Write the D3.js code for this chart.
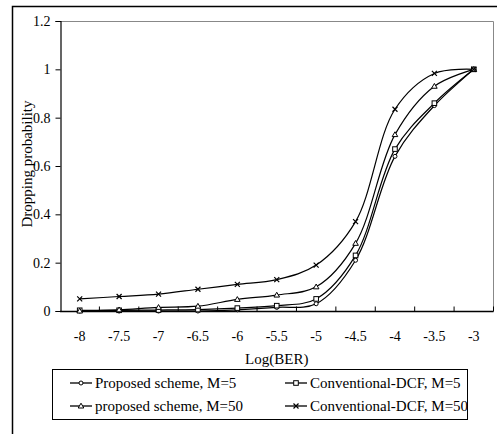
<!DOCTYPE html>
<html>
<head>
<meta charset="utf-8">
<script src="https://cdn.jsdelivr.net/npm/d3@7"></script>
<style>
  body { margin: 0; background: #fff; }
  svg text { font-family: "Liberation Serif", "Times New Roman", serif; fill: #000; }
</style>
</head>
<body>
<div id="chart"></div>
<script>
const categories = ['-8', '-7.5', '-7', '-6.5', '-6', '-5.5', '-5', '-4.5', '-4', '-3.5', '-3'];
const proposedM5 = [0, 0, 0, 0, 0.005, 0.015, 0.03, 0.21, 0.64, 0.85, 1.0];
const conventionalM5 = [0.003, 0.003, 0.004, 0.006, 0.012, 0.022, 0.05, 0.23, 0.67, 0.86, 1.0];
const proposedM50 = [0, 0.005, 0.015, 0.02, 0.048, 0.066, 0.1, 0.28, 0.73, 0.93, 1.0];
const conventionalM50 = [0.05, 0.06, 0.07, 0.09, 0.11, 0.13, 0.19, 0.37, 0.835, 0.983, 1.0];
const yTicks = [0, 0.2, 0.4, 0.6, 0.8, 1, 1.2];
const seriesNames = ['Proposed scheme, M=5', 'Conventional-DCF, M=5', 'proposed scheme, M=50', 'Conventional-DCF, M=50'];

const w = 497;
const h = 434;
const plot = { left: 60, right: 493.5, top: 21, bottom: 311 };

const series = [
  { name: seriesNames[0], values: proposedM5, marker: 'circle' },
  { name: seriesNames[1], values: conventionalM5, marker: 'square' },
  { name: seriesNames[2], values: proposedM50, marker: 'triangle' },
  { name: seriesNames[3], values: conventionalM50, marker: 'cross' }
];

const svg = d3.select('#chart')
  .append('svg')
  .attr('width', w)
  .attr('height', h);

// outer chart frame (clipped at right and bottom)
svg.append('path')
  .attr('d', 'M12.5,434 L12.5,6.5 L497,6.5')
  .attr('fill', 'none')
  .attr('stroke', '#000')
  .attr('stroke-width', 1.5);

const xScale = d3.scaleBand()
  .domain(categories)
  .range([plot.left, plot.right]);

const yScale = d3.scaleLinear()
  .domain([0, 1.2])
  .range([plot.bottom, plot.top]);

// plot frame top and right
svg.append('path')
  .attr('d', `M${plot.left},${plot.top + 0.5} L${plot.right},${plot.top + 0.5} L${plot.right},${plot.bottom}`)
  .attr('fill', 'none')
  .attr('stroke', '#888')
  .attr('stroke-width', 1);

// y axis
const yAxis = d3.axisLeft(yScale)
  .tickValues(yTicks)
  .tickFormat(d3.format('~g'))
  .tickSize(5)
  .tickPadding(5);

const gy = svg.append('g')
  .attr('transform', `translate(${plot.left + 0.5},0)`)
  .call(yAxis);
gy.attr('font-family', null);
gy.select('.domain').attr('stroke', '#000').attr('stroke-width', 1.2);
gy.selectAll('text').attr('font-size', '14px');

// x axis with category ticks between bands, pointing up
const gx = svg.append('g')
  .attr('transform', `translate(0,${plot.bottom + 0.5})`);
gx.append('line')
  .attr('x1', plot.left).attr('x2', plot.right)
  .attr('stroke', '#000').attr('stroke-width', 1.5);
gx.selectAll('line.tick')
  .data(categories)
  .enter()
  .append('line')
  .attr('class', 'tick')
  .attr('x1', function(d) { return xScale(d) + xScale.step(); })
  .attr('x2', function(d) { return xScale(d) + xScale.step(); })
  .attr('y1', 0)
  .attr('y2', -5)
  .attr('stroke', '#000');
gx.selectAll('text')
  .data(categories)
  .enter()
  .append('text')
  .text(function(d) { return d; })
  .attr('x', function(d) { return xScale(d) + xScale.bandwidth() / 2; })
  .attr('y', 29)
  .attr('font-size', '14px')
  .attr('text-anchor', 'middle');

// axis titles
svg.append('text')
  .text('Dropping probability')
  .attr('transform', `translate(32,${(plot.top + plot.bottom) / 2 - 2}) rotate(-90)`)
  .attr('font-size', '15px')
  .attr('text-anchor', 'middle');

svg.append('text')
  .text('Log(BER)')
  .attr('x', (plot.left + plot.right) / 2)
  .attr('y', 364)
  .attr('font-size', '15px')
  .attr('text-anchor', 'middle');

const line = d3.line()
  .x(function(d, i) { return xScale(categories[i]) + xScale.bandwidth() / 2; })
  .y(function(d) { return yScale(d); })
  .curve(d3.curveCatmullRom.alpha(0.5));

function drawMarker(g, type, x, y) {
  if (type === 'circle') {
    g.append('circle').attr('cx', x).attr('cy', y).attr('r', 2)
      .attr('fill', '#fff').attr('stroke', '#000').attr('stroke-width', 1);
  } else if (type === 'square') {
    g.append('rect').attr('x', x - 2.3).attr('y', y - 2.3).attr('width', 4.6).attr('height', 4.6)
      .attr('fill', '#fff').attr('stroke', '#000').attr('stroke-width', 1);
  } else if (type === 'triangle') {
    g.append('path').attr('d', `M${x},${y - 2.8} L${x + 2.8},${y + 2} L${x - 2.8},${y + 2} Z`)
      .attr('fill', '#fff').attr('stroke', '#000').attr('stroke-width', 1);
  } else {
    g.append('path').attr('d', `M${x - 2.5},${y - 2.5} L${x + 2.5},${y + 2.5} M${x - 2.5},${y + 2.5} L${x + 2.5},${y - 2.5}`)
      .attr('stroke', '#000').attr('stroke-width', 1.2);
  }
}

series.forEach(function(s) {
  svg.append('path')
    .datum(s.values)
    .attr('d', line)
    .attr('fill', 'none')
    .attr('stroke', '#000')
    .attr('stroke-width', 1.2);
});

series.forEach(function(s) {
  const g = svg.append('g');
  s.values.forEach(function(v, i) {
    drawMarker(g, s.marker, xScale(categories[i]) + xScale.bandwidth() / 2, yScale(v));
  });
});

// legend
const legend = svg.append('g');
legend.append('rect')
  .attr('x', 52.5).attr('y', 369.5).attr('width', 415).attr('height', 50)
  .attr('fill', '#fff').attr('stroke', '#000').attr('stroke-width', 1);

const legendPos = [[70, 383], [285, 383], [70, 406], [285, 406]];
series.forEach(function(s, i) {
  const p = legendPos[i];
  legend.append('line')
    .attr('x1', p[0]).attr('x2', p[0] + 22)
    .attr('y1', p[1]).attr('y2', p[1])
    .attr('stroke', '#000').attr('stroke-width', 1.3);
  drawMarker(legend, s.marker, p[0] + 11, p[1]);
  legend.append('text')
    .text(s.name)
    .attr('x', p[0] + 25)
    .attr('y', p[1] + 5)
    .attr('font-size', '15px');
});
</script>
</body>
</html>
